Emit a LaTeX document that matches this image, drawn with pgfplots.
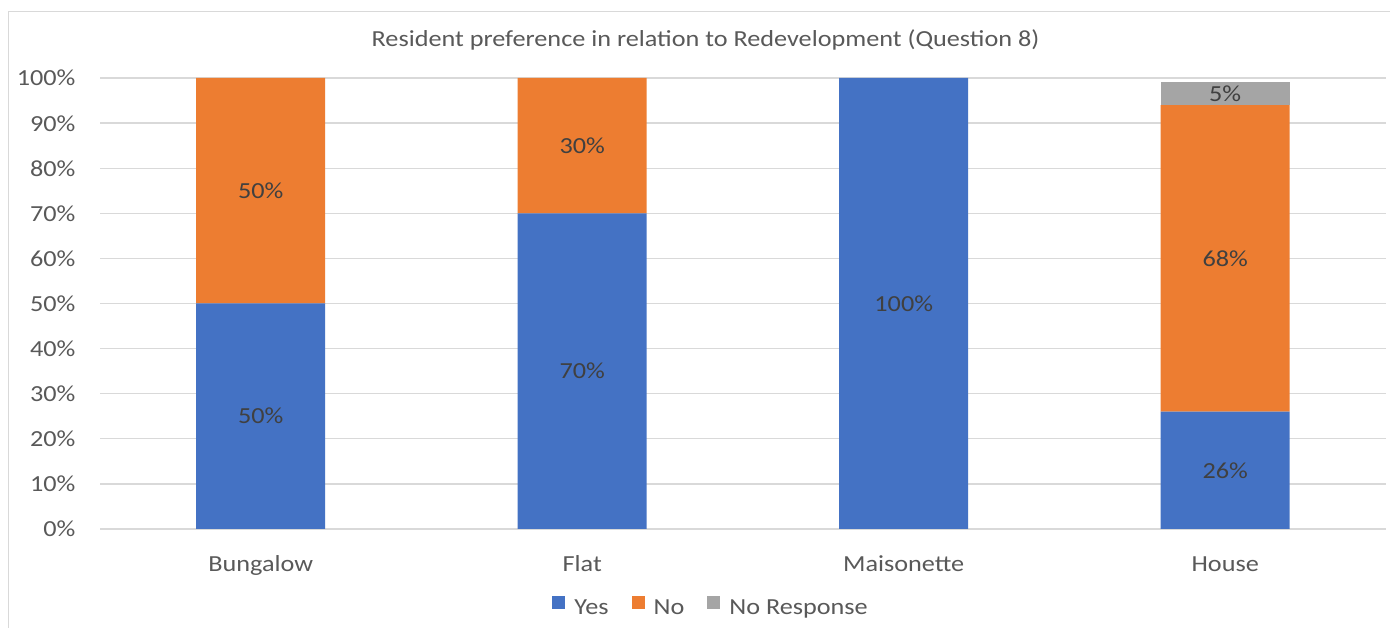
\documentclass[border=0pt]{standalone}
\usepackage{pgfplots}
\pgfplotsset{compat=1.18}
\usepackage{fontspec}
\setmainfont{Carlito}[FakeStretch=1.14]
\definecolor{cYes}{HTML}{4472C4}
\definecolor{cNo}{HTML}{ED7D31}
\definecolor{cNR}{HTML}{A5A5A5}
\definecolor{txt}{HTML}{595959}
\definecolor{lbl}{HTML}{404040}
\definecolor{gridc}{HTML}{D9D9D9}

\begin{document}
\begin{tikzpicture}[x=1pt,y=1pt]
\useasboundingbox (0,0) rectangle (1390,628);
\fill[white] (0,0) rectangle (1390,628);
\draw[gridc, line width=1pt] (8,0) -- (8,616) -- (1390,616);
\node[txt, font=\fontsize{23}{27}\selectfont] at (705.5,588) {Resident preference in relation to Redevelopment (Question 8)};
\begin{axis}[
  at={(100pt,99pt)}, anchor=south west,
  scale only axis, width=1286pt, height=451pt,
  xmin=-0.5, xmax=3.5, ymin=0, ymax=100,
  ybar stacked, bar width=129pt,
  axis line style={draw=none},
  /pgf/number format/assume math mode=true,
  xtick={0,1,2,3}, xticklabels={Bungalow,Flat,Maisonette,House},
  ytick={0,10,...,100},
  yticklabel={\pgfmathprintnumber{\tick}\%},
  ymajorgrids, grid style={gridc, line width=1.3pt},
  major tick length=0pt,
  tick label style={txt, font=\fontsize{23}{27}\selectfont},
  xticklabel style={anchor=base, yshift=-43pt},
  yticklabel style={anchor=base east, xshift=-21pt, yshift=-8pt},
  nodes near coords={\pgfmathfloatifflags{\pgfplotspointmeta}{0}{}{\pgfmathprintnumber{\pgfplotspointmeta}\%}},
  every node near coord/.append style={anchor=center, lbl, font=\fontsize{23}{27}\selectfont},
  legend columns=3,
  legend style={at={(0.4752,-0.173)}, anchor=center, draw=none, fill=none,
    font=\fontsize{23}{27}\selectfont, text=txt,
    /tikz/every odd column/.append style={column sep=7pt},
    /tikz/every even column/.append style={column sep=21pt}},
  legend image code/.code={\fill[#1] (0pt,-1pt) rectangle (13pt,12pt);},
]
\addplot[fill=cYes, draw=none] coordinates {(0,50) (1,70) (2,100) (3,26)};
\addplot[fill=cNo, draw=none] coordinates {(0,50) (1,30) (2,0) (3,68)};
\addplot[fill=cNR, draw=none] coordinates {(0,0) (1,0) (2,0) (3,5)};
\legend{Yes, No, No Response}
\end{axis}
\end{tikzpicture}
\end{document}
